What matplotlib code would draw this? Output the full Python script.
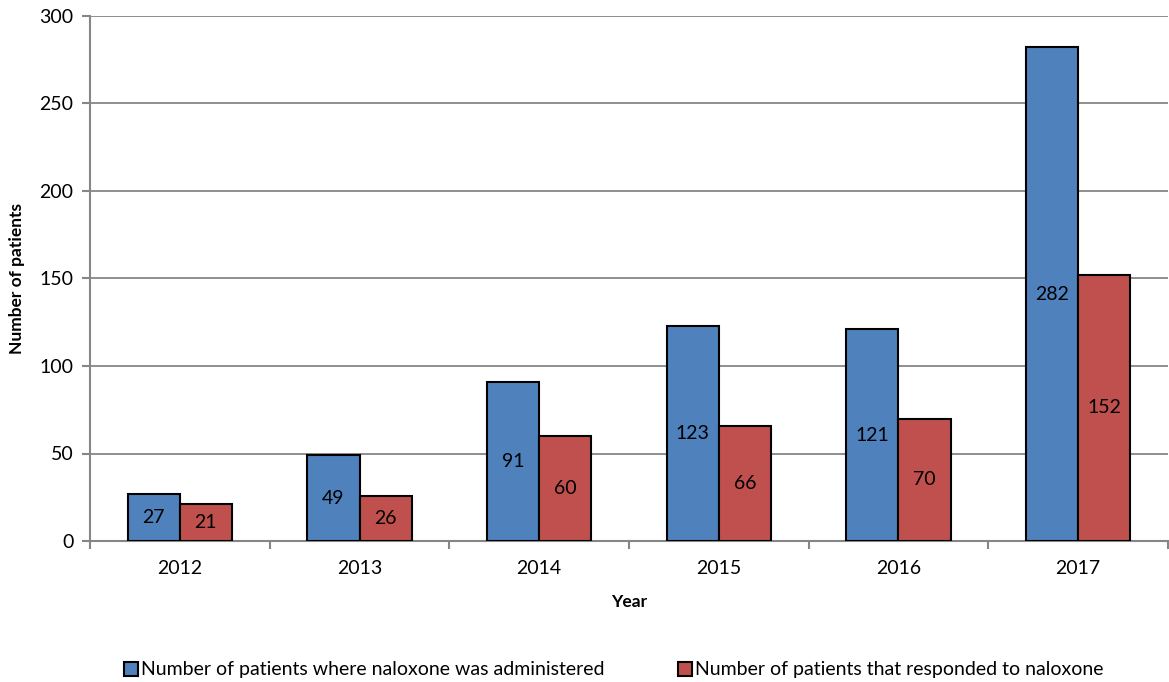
import numpy as np
import matplotlib.pyplot as plt

plt.rcParams['font.family'] = ['Lato', 'DejaVu Sans']

years = ['2012', '2013', '2014', '2015', '2016', '2017']
administered = [27, 49, 91, 123, 121, 282]
responded = [21, 26, 60, 66, 70, 152]

fig = plt.figure(figsize=(11.69, 6.82), dpi=100)
ax = fig.add_axes([90 / 1169, 1 - 541 / 682, 1078 / 1169, 525 / 682])

x = np.arange(len(years))
w = 0.29
b1 = ax.bar(x - w / 2, administered, w, color='#4F81BD', edgecolor='black', linewidth=1.5,
            label='Number of patients where naloxone was administered', zorder=3)
b2 = ax.bar(x + w / 2, responded, w, color='#C0504D', edgecolor='black', linewidth=1.5,
            label='Number of patients that responded to naloxone', zorder=3)
ax.bar_label(b1, label_type='center', fontsize=14)
ax.bar_label(b2, label_type='center', fontsize=14)

ax.set_xlim(-0.5, len(years) - 0.5)
ax.set_ylim(0, 300)
ax.set_yticks(range(0, 301, 50))
ax.set_xticks(x)
ax.set_xticklabels(years)
ax.set_xticks(np.arange(-0.5, len(years), 1), minor=True)
ax.tick_params(axis='x', which='major', length=0, labelsize=14, pad=14)
ax.tick_params(axis='x', which='minor', length=6, color='#868686', width=1.5)
ax.tick_params(axis='y', length=6, color='#868686', width=1.5, labelsize=14, pad=6)

ax.grid(axis='y', color='#868686', linewidth=1.3, zorder=0)
for s in ['top', 'right']:
    ax.spines[s].set_visible(False)
for s in ['left', 'bottom']:
    ax.spines[s].set_color('#868686')
    ax.spines[s].set_linewidth(1.5)

ax.set_xlabel('Year', fontsize=12.5, fontweight='bold', labelpad=12)
ax.set_ylabel('Number of patients', fontsize=12.5, fontweight='bold', labelpad=10)

fig.legend(loc='center', bbox_to_anchor=(0.525, 1 - 670 / 682), ncol=2, frameon=False,
           fontsize=14, handlelength=0.7, handleheight=0.7, handletextpad=0.15,
           columnspacing=3.8)

fig.savefig('out.png', dpi=100)
